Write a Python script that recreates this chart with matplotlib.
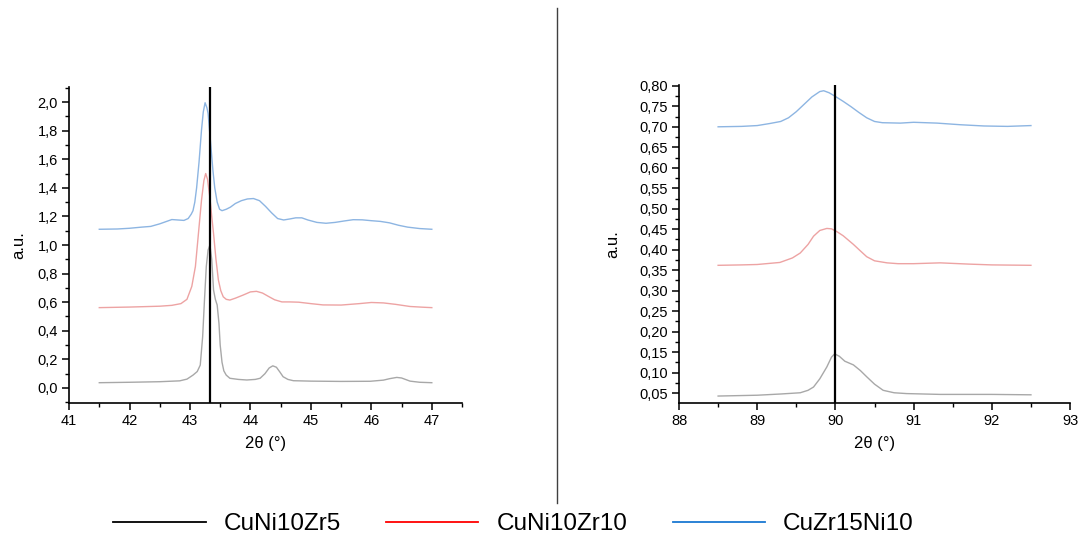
import numpy as np
import matplotlib.pyplot as plt
from matplotlib.lines import Line2D
from matplotlib.ticker import MultipleLocator, FuncFormatter

plt.rcParams['font.family'] = ['Liberation Sans', 'DejaVu Sans']

names = ["CuNi10Zr5", "CuNi10Zr10", "CuZr15Ni10"]
legend_colors = ["#000000", "#ff0000", "#1a78d2"]
curve_colors = ["#a8a8a8", "#eda3a3", "#8db5e2"]

# left panel (41.5 - 47 deg)
black_l_x = [41.5, 42.0, 42.5, 42.83, 42.95, 43.05, 43.12, 43.17, 43.21, 43.24, 43.27, 43.30, 43.33,
             43.36, 43.39, 43.42, 43.45, 43.48, 43.50, 43.53, 43.56, 43.6, 43.66, 43.8, 43.94, 44.08,
             44.16, 44.24, 44.31, 44.37, 44.43, 44.49, 44.54, 44.62, 44.71, 45.0, 45.5, 45.98, 46.2,
             46.3, 46.42, 46.5, 46.64, 46.8, 47.0]
black_l_y = [0.037, 0.04, 0.044, 0.05, 0.062, 0.09, 0.115, 0.16, 0.36, 0.615, 0.85, 0.965, 1.0,
             0.9, 0.685, 0.62, 0.58, 0.45, 0.30, 0.18, 0.12, 0.09, 0.068, 0.06, 0.056, 0.06,
             0.068, 0.1, 0.14, 0.155, 0.145, 0.11, 0.079, 0.06, 0.051, 0.048, 0.046, 0.047, 0.055,
             0.065, 0.074, 0.07, 0.048, 0.04, 0.037]

red_l_x = [41.5, 42.0, 42.5, 42.7, 42.85, 42.95, 43.03, 43.09, 43.14, 43.19, 43.23, 43.26, 43.29,
           43.33, 43.36, 43.39, 43.43, 43.47, 43.51, 43.55, 43.6, 43.66, 43.75, 43.88, 44.0, 44.1,
           44.2, 44.3, 44.4, 44.52, 44.65, 44.8, 45.0, 45.2, 45.5, 45.8, 46.0, 46.2, 46.4, 46.64,
           46.85, 47.0]
red_l_y = [0.562, 0.566, 0.572, 0.578, 0.59, 0.62, 0.71, 0.85, 1.08, 1.31, 1.45, 1.50, 1.46,
           1.33, 1.2, 1.08, 0.9, 0.755, 0.68, 0.638, 0.62, 0.615, 0.628, 0.65, 0.672, 0.676,
           0.664, 0.64, 0.617, 0.602, 0.602, 0.6, 0.59, 0.581, 0.58, 0.59, 0.598, 0.595, 0.585, 0.57,
           0.565, 0.562]

blue_l_x = [41.5, 41.8, 42.0, 42.2, 42.35, 42.5, 42.6, 42.7, 42.8, 42.9, 42.97, 43.02, 43.05, 43.08,
            43.11, 43.15, 43.19, 43.22, 43.25, 43.28, 43.30, 43.34, 43.38, 43.41, 43.45, 43.49, 43.53,
            43.6, 43.67, 43.75, 43.85, 43.95, 44.05, 44.15, 44.25, 44.35, 44.45, 44.55, 44.65, 44.75,
            44.85, 44.95, 45.1, 45.25, 45.4, 45.55, 45.7, 45.85, 46.0, 46.15, 46.3, 46.45, 46.6,
            46.8, 47.0]
blue_l_y = [1.11, 1.112, 1.117, 1.125, 1.13, 1.148, 1.163, 1.178, 1.175, 1.172, 1.185, 1.215, 1.24, 1.30,
            1.40, 1.58, 1.80, 1.93, 1.995, 1.96, 1.92, 1.72, 1.52, 1.40, 1.30, 1.25, 1.24,
            1.25, 1.265, 1.29, 1.31, 1.322, 1.325, 1.31, 1.27, 1.225, 1.185, 1.175, 1.182, 1.19,
            1.19, 1.175, 1.158, 1.152, 1.158, 1.168, 1.177, 1.176, 1.17, 1.165, 1.155, 1.138, 1.125,
            1.115, 1.11]

# right panel (88.5 - 92.5 deg)
black_r_x = [88.5, 89.0, 89.3, 89.55, 89.65, 89.72, 89.8, 89.89, 89.95, 89.99, 90.05, 90.12, 90.23,
             90.32, 90.4, 90.5, 90.61, 90.75, 90.91, 91.34, 92.0, 92.5]
black_r_y = [0.043, 0.045, 0.048, 0.051, 0.057, 0.065, 0.085, 0.114, 0.138, 0.146, 0.14, 0.128, 0.119,
             0.105, 0.09, 0.072, 0.057, 0.051, 0.049, 0.047, 0.047, 0.046]

red_r_x = [88.5, 88.8, 89.0, 89.29, 89.45, 89.55, 89.65, 89.72, 89.8, 89.89, 89.95, 90.02, 90.1,
           90.23, 90.32, 90.4, 90.5, 90.66, 90.8, 91.0, 91.34, 91.7, 92.0, 92.5]
red_r_y = [0.362, 0.363, 0.364, 0.369, 0.38, 0.392, 0.413, 0.433, 0.447, 0.452, 0.451, 0.444, 0.434,
           0.413, 0.397, 0.383, 0.373, 0.368, 0.366, 0.366, 0.368, 0.365, 0.363, 0.362]

blue_r_x = [88.5, 88.8, 89.0, 89.16, 89.3, 89.4, 89.5, 89.6, 89.7, 89.8, 89.85, 89.92, 90.0, 90.1,
            90.2, 90.3, 90.4, 90.5, 90.6, 90.83, 91.0, 91.3, 91.6, 91.9, 92.2, 92.5]
blue_r_y = [0.70, 0.701, 0.703, 0.708, 0.713, 0.722, 0.737, 0.755, 0.773, 0.786, 0.788, 0.783, 0.774,
            0.762, 0.749, 0.735, 0.722, 0.713, 0.71, 0.709, 0.711, 0.709, 0.705, 0.702, 0.701, 0.703]

ref_left = 43.33
ref_right = 90.0


def comma(v, pos, nd):
    return f"{v:.{nd}f}".replace('.', ',')


fig = plt.figure(figsize=(10.79, 5.39), dpi=100)
ax1 = fig.add_axes([0.064, 0.2523, 0.3642, 0.5863])
ax2 = fig.add_axes([0.6293, 0.2523, 0.3624, 0.590])

left_data = [(black_l_x, black_l_y), (red_l_x, red_l_y), (blue_l_x, blue_l_y)]
right_data = [(black_r_x, black_r_y), (red_r_x, red_r_y), (blue_r_x, blue_r_y)]
for (x, y), c in zip(left_data, curve_colors):
    ax1.plot(x, y, color=c, lw=1.0)
for (x, y), c in zip(right_data, curve_colors):
    ax2.plot(x, y, color=c, lw=1.0)

ax1.axvline(ref_left, color='black', lw=1.6)
ax2.axvline(ref_right, color='black', lw=1.6)

ax1.set_xlim(41, 47.5)
ax1.set_ylim(-0.105, 2.105)
ax1.xaxis.set_major_locator(MultipleLocator(1))
ax1.xaxis.set_minor_locator(MultipleLocator(0.5))
ax1.yaxis.set_major_locator(MultipleLocator(0.2))
ax1.yaxis.set_minor_locator(MultipleLocator(0.1))
ax1.yaxis.set_major_formatter(FuncFormatter(lambda v, p: comma(v, p, 1)))

ax2.set_xlim(88, 93)
ax2.set_ylim(0.026, 0.802)
ax2.xaxis.set_major_locator(MultipleLocator(1))
ax2.xaxis.set_minor_locator(MultipleLocator(0.5))
ax2.yaxis.set_major_locator(MultipleLocator(0.05))
ax2.yaxis.set_minor_locator(MultipleLocator(0.025))
ax2.yaxis.set_major_formatter(FuncFormatter(lambda v, p: comma(v, p, 2)))

for ax in (ax1, ax2):
    ax.spines['top'].set_visible(False)
    ax.spines['right'].set_visible(False)
    ax.spines['left'].set_linewidth(1.2)
    ax.spines['bottom'].set_linewidth(1.2)
    ax.tick_params(which='major', direction='out', length=5, width=1.1, labelsize=10.5, pad=3)
    ax.tick_params(which='minor', direction='out', length=3, width=1.0)
    ax.set_xlabel('2θ (°)', fontsize=12, labelpad=6)
ax1.set_ylabel('a.u.', fontsize=12, labelpad=8)
ax2.set_ylabel('a.u.', fontsize=12, labelpad=14)

# separator between the panels
fig.add_artist(Line2D([557 / 1079, 557 / 1079], [1 - 8 / 539, 1 - 503 / 539],
                      color='#404040', lw=1.0))

handles = [Line2D([], [], color=c, lw=1.3) for c in legend_colors]
fig.legend(handles, names, loc='center left', bbox_to_anchor=(0.105, 0.027), ncol=3,
           frameon=False, fontsize=17.5, handlelength=3.8, handletextpad=0.75,
           columnspacing=1.85, borderpad=0, borderaxespad=0)

fig.savefig('out.png', dpi=100)
